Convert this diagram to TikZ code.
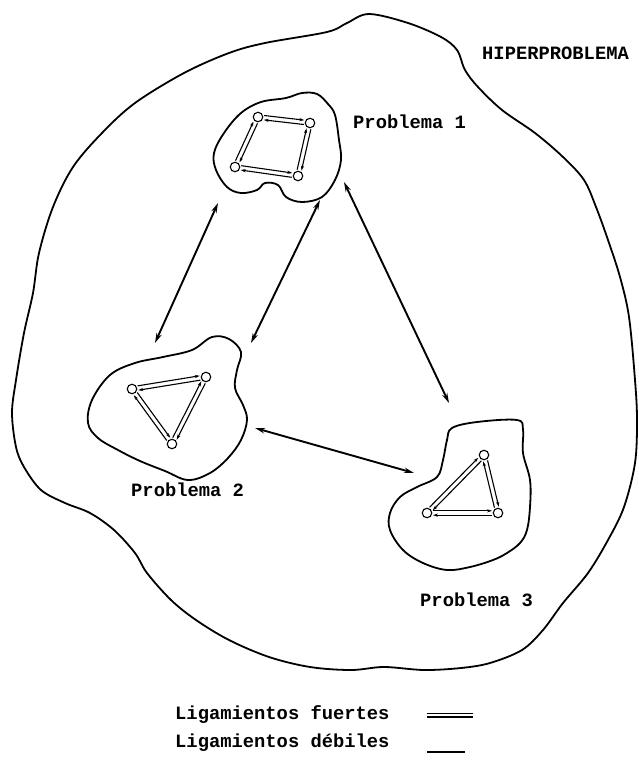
\documentclass[tikz,border=0pt]{standalone}
\usepackage{fontspec}
\setmonofont{Liberation Mono}
\usetikzlibrary{arrows.meta,calc}

\tikzset{
  contorno/.style={line width=1.8pt,line join=round},
  liga/.style={line width=1.9pt,{Stealth[length=10pt,width=5.5pt]}-{Stealth[length=10pt,width=5.5pt]}},
  fuerte/.style={line width=1.1pt,-{Stealth[length=5pt,width=3.2pt]},shorten <=6pt,shorten >=6pt},
  vert/.style={circle,draw,line width=1.1pt,minimum size=9.5pt,inner sep=0pt},
  rotulo/.style={anchor=west,inner sep=0pt,font=\ttfamily\bfseries\fontsize{18.8}{20}\selectfont}
}
\newcommand\doble[2]{%
  \draw[fuerte] ($(#1)!2.2pt!90:(#2)$) -- ($(#2)!2.2pt!-90:(#1)$);
  \draw[fuerte] ($(#2)!2.2pt!90:(#1)$) -- ($(#1)!2.2pt!-90:(#2)$);
}

\begin{document}
\begin{tikzpicture}[x=1pt,y=-1pt]
\useasboundingbox (0,0) rectangle (639,771);

% hiperproblema
\draw[contorno] plot[smooth cycle,tension=0.55] coordinates {
(369,14) (408,23) (441,37) (457,50) (465,70) (478,87) (502,110) (535,133)
(563,157) (584,180) (596,207) (608,240) (620,277) (629,317) (635,380)
(637,420) (635,463) (624,507) (608,540) (588,573) (563,603) (543,630)
(522,650) (490,663) (461,668) (424,670) (384,667) (351,670) (310,667)
(269,657) (229,640) (196,620) (171,600) (147,573) (135,553) (114,530)
(90,513) (65,503) (41,490) (24,467) (16,447) (12,413) (16,380) (24,333)
(33,293) (39,253) (53,207) (73,167) (102,133) (135,103) (184,73) (229,53)
(265,43) (327,32) (347,23)};
\node[rotulo] (hiper) at (482,53) {HIPERPROBLEMA};

% problema 1
\draw[contorno] plot[smooth cycle,tension=0.6] coordinates {
(302,93) (317,94) (328,104) (335,115) (339,140) (341,160) (335,180)
(322,197) (302,202) (286,197) (278,185) (265,183) (257,190) (241,193)
(227,187) (216,170) (214,153) (224,133) (241,113) (261,102) (286,98)};
\node[rotulo] (lab1) at (353,122) {Problema 1};
\node[vert] (a1) at (258,117) {};
\node[vert] (a2) at (310,123) {};
\node[vert] (a3) at (235,167) {};
\node[vert] (a4) at (298,176) {};
\doble{a1}{a2}
\doble{a2}{a4}
\doble{a4}{a3}
\doble{a3}{a1}

% problema 2
\draw[contorno] plot[smooth cycle,tension=0.6] coordinates {
(110,375) (135,363) (163,357) (192,350) (212,337) (229,339) (241,352)
(237,370) (235,388) (243,405) (247,420) (241,440) (228,458) (210,473)
(188,480) (165,471) (140,461) (118,450) (98,438) (88,423) (92,400)};
\node[rotulo] (lab2) at (131,490) {Problema 2};
\node[vert] (b1) at (132,389) {};
\node[vert] (b2) at (206,377) {};
\node[vert] (b3) at (172,444) {};
\doble{b1}{b2}
\doble{b2}{b3}
\doble{b3}{b1}

% problema 3
\draw[contorno] plot[smooth cycle,tension=0.6] coordinates {
(452,428) (477,422) (517,420) (523,430) (523,453) (530,480) (530,507)
(527,530) (520,543) (507,553) (493,560) (470,567) (447,570) (423,563)
(403,550) (390,530) (390,513) (400,497) (417,487) (437,477) (443,460)
(447,440)};
\node[rotulo] (lab3) at (420,600) {Problema 3};
\node[vert] (c1) at (484,455) {};
\node[vert] (c2) at (427,513) {};
\node[vert] (c3) at (498,513) {};
\doble{c1}{c3}
\doble{c3}{c2}
\doble{c2}{c1}

% ligamientos entre problemas
\coordinate (p1sw) at (218,203);
\coordinate (p1s) at (320,200);
\coordinate (p1se) at (344,182);
\coordinate (p2n) at (155,343);
\coordinate (p2ne) at (251,343);
\coordinate (p2e) at (255,428);
\coordinate (p3n) at (449,403);
\coordinate (p3w) at (414,473);
\draw[liga] (p1sw) -- (p2n);
\draw[liga] (p1s) -- (p2ne);
\draw[liga] (p1se) -- (p3n);
\draw[liga] (p2e) -- (p3w);

% leyenda
\node[rotulo] (fuertes) at (175,715) {Ligamientos fuertes};
\node[rotulo] (debiles) at (175,743) {Ligamientos débiles};
\draw[line width=1.4pt,double distance=2.2pt] (427,715) -- (473,715);
\draw[line width=1.6pt] (427,752) -- (465,752);
\end{tikzpicture}
\end{document}
